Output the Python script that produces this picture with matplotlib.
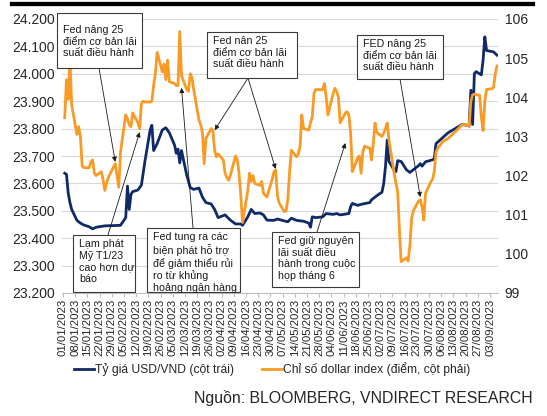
import numpy as np
import pandas as pd
import matplotlib
matplotlib.use("Agg")
import matplotlib.pyplot as plt
from matplotlib.patches import Rectangle
from matplotlib.lines import Line2D

plt.rcParams["font.family"] = ["Liberation Sans", "DejaVu Sans"]

# ── data ──────────────────────────────────────────────────────────────────
usd_dates = [
    "2023-01-02", "2023-01-03", "2023-01-04", "2023-01-05", "2023-01-06",
    "2023-01-09", "2023-01-11", "2023-01-13", "2023-01-16", "2023-01-18",
    "2023-01-20", "2023-01-25", "2023-01-30", "2023-02-03", "2023-02-06",
    "2023-02-07", "2023-02-08", "2023-02-09", "2023-02-10", "2023-02-13",
    "2023-02-15", "2023-02-17", "2023-02-20", "2023-02-21", "2023-02-22",
    "2023-02-24", "2023-02-27", "2023-03-01", "2023-03-03", "2023-03-06",
    "2023-03-07", "2023-03-08", "2023-03-09", "2023-03-10", "2023-03-13",
    "2023-03-15", "2023-03-17", "2023-03-20", "2023-03-22", "2023-03-24",
    "2023-03-27", "2023-03-29", "2023-03-31", "2023-04-04", "2023-04-07",
    "2023-04-10", "2023-04-13", "2023-04-14", "2023-04-17", "2023-04-19",
    "2023-04-21", "2023-04-24", "2023-04-26", "2023-04-28", "2023-05-02",
    "2023-05-04", "2023-05-08", "2023-05-10", "2023-05-12", "2023-05-15",
    "2023-05-19", "2023-05-22", "2023-05-23", "2023-05-24", "2023-05-26",
    "2023-05-30", "2023-06-01", "2023-06-05", "2023-06-07", "2023-06-09",
    "2023-06-12", "2023-06-14", "2023-06-15", "2023-06-16", "2023-06-19",
    "2023-06-22", "2023-06-26", "2023-06-27", "2023-06-30", "2023-07-03",
    "2023-07-04", "2023-07-05", "2023-07-06", "2023-07-07", "2023-07-10",
    "2023-07-11", "2023-07-12", "2023-07-14", "2023-07-17", "2023-07-19",
    "2023-07-21", "2023-07-24", "2023-07-25", "2023-07-26", "2023-07-28",
    "2023-08-01", "2023-08-02", "2023-08-03", "2023-08-07", "2023-08-10",
    "2023-08-14", "2023-08-18", "2023-08-21", "2023-08-22", "2023-08-23",
    "2023-08-24", "2023-08-25", "2023-08-26", "2023-08-29", "2023-08-30",
    "2023-08-31", "2023-09-01", "2023-09-05", "2023-09-07",
]
usd_vnd = [
    23.637, 23.633, 23.565, 23.530, 23.505,
    23.465, 23.455, 23.448, 23.442, 23.434,
    23.440, 23.445, 23.446, 23.447, 23.475,
    23.590, 23.505, 23.560, 23.570, 23.576,
    23.594, 23.680, 23.795, 23.812, 23.720,
    23.745, 23.795, 23.803, 23.785, 23.740,
    23.710, 23.725, 23.675, 23.720, 23.630,
    23.585, 23.578, 23.583, 23.550, 23.530,
    23.525, 23.505, 23.475, 23.485, 23.466,
    23.452, 23.452, 23.447, 23.478, 23.505,
    23.490, 23.492, 23.485, 23.466, 23.465,
    23.470, 23.463, 23.460, 23.473, 23.465,
    23.462, 23.455, 23.440, 23.478, 23.475,
    23.478, 23.490, 23.487, 23.490, 23.485,
    23.488, 23.490, 23.515, 23.527, 23.520,
    23.525, 23.530, 23.540, 23.555, 23.568,
    23.600, 23.660, 23.758, 23.680, 23.648,
    23.643, 23.683, 23.680, 23.650, 23.640,
    23.650, 23.665, 23.672, 23.663, 23.679,
    23.686, 23.690, 23.745, 23.768, 23.785,
    23.800, 23.815, 23.812, 23.810, 23.940,
    23.815, 24.000, 24.008, 23.996, 24.050,
    24.135, 24.085, 24.080, 24.068,
]

dxy_dates = [
    "2023-01-02", "2023-01-03", "2023-01-04", "2023-01-05", "2023-01-06",
    "2023-01-09", "2023-01-10", "2023-01-11", "2023-01-12", "2023-01-13",
    "2023-01-16", "2023-01-17", "2023-01-18", "2023-01-19", "2023-01-20",
    "2023-01-23", "2023-01-24", "2023-01-25", "2023-01-26", "2023-01-27",
    "2023-01-30", "2023-01-31", "2023-02-01", "2023-02-02", "2023-02-03",
    "2023-02-06", "2023-02-07", "2023-02-08", "2023-02-09", "2023-02-10",
    "2023-02-13", "2023-02-14", "2023-02-15", "2023-02-16", "2023-02-17",
    "2023-02-20", "2023-02-21", "2023-02-22", "2023-02-23", "2023-02-24",
    "2023-02-27", "2023-02-28", "2023-03-01", "2023-03-02", "2023-03-03",
    "2023-03-06", "2023-03-07", "2023-03-08", "2023-03-09", "2023-03-10",
    "2023-03-13", "2023-03-14", "2023-03-15", "2023-03-16", "2023-03-17",
    "2023-03-20", "2023-03-21", "2023-03-22", "2023-03-23", "2023-03-24",
    "2023-03-27", "2023-03-28", "2023-03-29", "2023-03-30", "2023-03-31",
    "2023-04-03", "2023-04-04", "2023-04-05", "2023-04-06", "2023-04-07",
    "2023-04-10", "2023-04-11", "2023-04-12", "2023-04-13", "2023-04-14",
    "2023-04-17", "2023-04-18", "2023-04-19", "2023-04-20", "2023-04-21",
    "2023-04-24", "2023-04-25", "2023-04-26", "2023-04-27", "2023-04-28",
    "2023-05-01", "2023-05-02", "2023-05-03", "2023-05-04", "2023-05-05",
    "2023-05-08", "2023-05-09", "2023-05-10", "2023-05-11", "2023-05-12",
    "2023-05-15", "2023-05-16", "2023-05-17", "2023-05-18", "2023-05-19",
    "2023-05-22", "2023-05-23", "2023-05-24", "2023-05-25", "2023-05-26",
    "2023-05-29", "2023-05-30", "2023-05-31", "2023-06-01", "2023-06-02",
    "2023-06-05", "2023-06-06", "2023-06-07", "2023-06-08", "2023-06-09",
    "2023-06-12", "2023-06-13", "2023-06-14", "2023-06-15", "2023-06-16",
    "2023-06-19", "2023-06-20", "2023-06-21", "2023-06-22", "2023-06-23",
    "2023-06-26", "2023-06-27", "2023-06-28", "2023-06-29", "2023-06-30",
    "2023-07-03", "2023-07-04", "2023-07-05", "2023-07-06", "2023-07-07",
    "2023-07-10", "2023-07-11", "2023-07-12", "2023-07-13", "2023-07-14",
    "2023-07-17", "2023-07-18", "2023-07-19", "2023-07-20", "2023-07-21",
    "2023-07-24", "2023-07-25", "2023-07-26", "2023-07-27", "2023-07-28",
    "2023-07-31", "2023-08-01", "2023-08-02", "2023-08-03", "2023-08-04",
    "2023-08-07", "2023-08-10", "2023-08-14", "2023-08-18", "2023-08-21",
    "2023-08-22", "2023-08-23", "2023-08-24", "2023-08-25", "2023-08-28",
    "2023-08-29", "2023-08-30", "2023-08-31", "2023-09-01", "2023-09-04",
    "2023-09-05", "2023-09-06", "2023-09-07",
]
dxy = [
    103.48, 104.45, 103.95, 105.00, 103.80,
    103.05, 103.25, 103.00, 102.25, 102.20,
    102.20, 102.35, 102.40, 102.06, 102.00,
    102.10, 101.90, 101.62, 101.80, 101.95,
    102.22, 102.30, 102.00, 101.70, 102.60,
    103.55, 103.45, 103.30, 103.25, 103.60,
    103.35, 103.20, 103.85, 103.90, 103.88,
    103.88, 103.90, 104.30, 104.60, 105.15,
    104.65, 104.85, 104.45, 104.95, 104.40,
    104.35, 104.30, 104.30, 105.68, 104.55,
    104.20, 104.15, 104.60, 104.50, 104.20,
    103.42, 103.30, 103.10, 102.30, 102.95,
    103.20, 103.15, 102.65, 102.48, 102.55,
    102.40, 102.06, 101.95, 101.88, 102.00,
    102.50, 102.40, 102.06, 101.50, 100.80,
    101.60, 102.06, 101.85, 102.00, 101.80,
    101.75, 101.85, 101.55, 101.50, 101.45,
    101.90, 102.10, 102.14, 101.50, 101.30,
    101.08, 101.10, 101.40, 102.10, 102.65,
    102.48, 102.55, 102.74, 103.55, 103.20,
    103.16, 103.35, 103.50, 104.10, 104.20,
    104.19, 104.20, 104.35, 104.00, 103.55,
    104.10, 104.23, 104.15, 104.00, 103.35,
    103.60, 103.63, 103.55, 103.10, 102.10,
    102.45, 102.50, 102.06, 102.60, 102.75,
    102.70, 102.40, 102.80, 103.34, 103.10,
    103.00, 103.08, 103.20, 103.34, 102.90,
    102.06, 101.80, 101.60, 100.60, 99.80,
    99.90, 99.82, 100.20, 100.90, 101.10,
    101.35, 101.38, 101.20, 100.86, 101.55,
    101.84, 101.90, 102.10, 102.60, 102.70,
    102.87, 102.95, 103.12, 103.30, 103.30,
    103.25, 103.90, 104.06, 104.08, 104.05,
    103.50, 103.15, 103.90, 104.20, 104.22,
    104.25, 104.60, 104.80,
]

left_ticks = [23.2, 23.3, 23.4, 23.5, 23.6, 23.7, 23.8, 23.9, 24.0, 24.1, 24.2]
right_ticks = [99, 100, 101, 102, 103, 104, 105, 106]
week_ticks = pd.date_range("2023-01-01", "2023-09-03", freq="7D")

legend_labels = ["Tỷ giá USD/VND (cột trái)",
                 "Chỉ số dollar index (điểm, cột phải)"]
source_text = "Nguồn: BLOOMBERG, VNDIRECT RESEARCH"

# callouts: text, box px (left, top, right, bottom), text drop, arrow start px,
# arrow targets (date, dxy)
notes = [
    ("Fed nâng 25\nđiểm cơ bản lãi\nsuất điều hành", (57, 13, 142, 68), 12,
     (99, 68), [("2023-01-31", 102.35)]),
    ("Lạm phát\nMỹ T1/23\ncao hơn dự\nbáo", (73, 235, 135, 292), 4,
     (108, 235), [("2023-02-14", 103.11)]),
    ("Fed tung ra các\nbiện phát hỗ trợ\nđể giảm thiểu rủi\nro từ khủng\nhoảng ngân hàng",
     (147, 228, 240, 292), 4, (193, 228), [("2023-03-10", 104.24)]),
    ("Fed nân 25\nđiểm cơ bản lãi\nsuất điều hành", (207, 32, 297, 78), 4,
     (248, 78), [("2023-03-29", 103.16), ("2023-05-03", 102.17)]),
    ("Fed giữ nguyên\nlãi suất điều\nhành trong cuộc\nhọp tháng 6",
     (272, 232, 359, 287), 4, (317, 232), [("2023-06-12", 102.83)]),
    ("FED nâng 25\nđiểm cơ bản lãi\nsuất điều hành", (357, 35, 443, 79), 4,
     (400, 79), [("2023-07-25", 101.45)]),
]

BLUE = "#0f2a66"
ORANGE = "#f99a25"
TXT = "#262626"

W, H = 547, 416


def fx(px):
    return px / W


def fy(py):
    return 1 - py / H


fig = plt.figure(figsize=(W / 100, H / 100), dpi=100)
fig.patch.set_facecolor("white")
ax = fig.add_axes([fx(62.1), fy(293), (497.9 - 62.1) / W, 274 / H])
ax2 = ax.twinx()

ax.plot(pd.to_datetime(usd_dates), usd_vnd, color=BLUE, lw=2.0,
        solid_joinstyle="round")
ax2.plot(pd.to_datetime(dxy_dates), dxy, color=ORANGE, lw=2.0,
         solid_joinstyle="round")

# ── axes ──────────────────────────────────────────────────────────────────
x0 = pd.Timestamp("2023-01-01") - pd.Timedelta(hours=12)
x1 = pd.Timestamp("2023-09-07") + pd.Timedelta(hours=12)
ax.set_xlim(x0, x1)
ax.set_ylim(23.2, 24.2)
ax2.set_ylim(99, 106)

ax.set_yticks(left_ticks)
ax.set_yticklabels([f"{v:.3f}" for v in left_ticks])
ax2.set_yticks(right_ticks)
ax2.set_yticklabels([str(v) for v in right_ticks])
ax.set_xticks(week_ticks)
ax.set_xticklabels([d.strftime("%d/%m/%Y") for d in week_ticks], rotation=90)

ax.yaxis.grid(True, color="#d9d9d9", lw=0.8)
ax.set_axisbelow(True)
for a in (ax, ax2):
    for s in a.spines.values():
        s.set_visible(False)
ax.spines["bottom"].set_visible(True)
ax.spines["bottom"].set_color("#bfbfbf")
ax.spines["bottom"].set_linewidth(0.8)

ax.tick_params(axis="y", length=0, pad=5, labelsize=10, labelcolor=TXT)
ax2.tick_params(axis="y", length=0, pad=5, labelsize=10, labelcolor=TXT)
ax.tick_params(axis="x", length=3, width=0.8, color="#bfbfbf", pad=1.5,
               labelsize=8.2, labelcolor=TXT)

# ── callouts ──────────────────────────────────────────────────────────────
for text, (l, t, r, b), drop, src, targets in notes:
    fig.add_artist(Rectangle((fx(l), fy(b)), (r - l) / W, (b - t) / H,
                             transform=fig.transFigure, facecolor="white",
                             edgecolor="#3a3a3a", lw=0.8, zorder=5))
    fig.text(fx(l + 6), fy(t + drop), text, ha="left", va="top",
             fontsize=7.7, color="#1a1a1a", linespacing=1.2, zorder=6)
    for d, v in targets:
        ax2.annotate("", xy=(pd.Timestamp(d), v), xycoords="data",
                     xytext=(fx(src[0]), fy(src[1])),
                     textcoords="figure fraction", annotation_clip=False,
                     arrowprops=dict(arrowstyle="-|>", color="#1a1a1a",
                                     lw=0.6, mutation_scale=7,
                                     shrinkA=0, shrinkB=0), zorder=4)

# ── legend, source, top rule ──────────────────────────────────────────────
handles = [Line2D([], [], color=BLUE, lw=2), Line2D([], [], color=ORANGE, lw=2)]
fig.legend(handles, legend_labels, loc="center",
           bbox_to_anchor=(fx(272.5), fy(369)), ncol=2, frameon=False,
           fontsize=8.7, handlelength=1.6, handletextpad=0.15,
           columnspacing=2.3, labelcolor=TXT)
fig.text(fx(533), fy(403), source_text, ha="right", va="baseline",
         fontsize=11.4, color=TXT)
fig.add_artist(Line2D([fx(12), fx(533)], [fy(3.8), fy(3.8)], color="black",
                      lw=3.1, transform=fig.transFigure))

fig.savefig("out.png", dpi=100, facecolor="white")
